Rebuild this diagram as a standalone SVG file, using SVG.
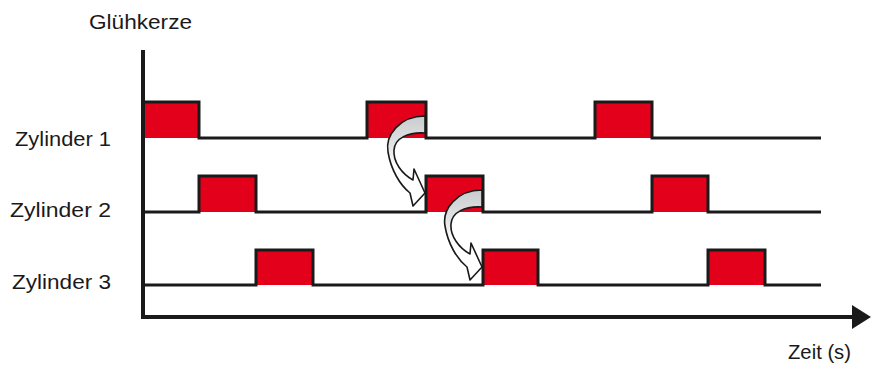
<svg xmlns="http://www.w3.org/2000/svg" width="872" height="369" viewBox="0 0 872 369">
<style>
.lbl{font-family:"Liberation Sans",Arial,sans-serif;font-size:19.5px;fill:#1a1a1a}
.wave{fill:none;stroke:#1a1a1a;stroke-width:3;stroke-linejoin:miter}
.pulse{fill:#e2001a}
.axis{stroke:#1a1a1a;stroke-width:4;fill:none}
.carrow{fill:url(#ag);stroke:#1a1a1a;stroke-width:1.6;stroke-linejoin:round}
</style>
<defs>
<linearGradient id="ag" x1="0" y1="0" x2="0" y2="1">
<stop offset="0" stop-color="#c9ccce"/>
<stop offset="0.35" stop-color="#e4e5e6"/>
<stop offset="0.55" stop-color="#ffffff"/>
<stop offset="1" stop-color="#ffffff"/>
</linearGradient>
<path id="curl" d="M425 116 C400 116 385 135 388 152 C391 170 400 185 410 193 L413 206 L425 193 L414 169 L413 180 C402 174 393 162 394 150 C395 138 408 132 425 133 Z"/>
</defs>
<rect width="872" height="369" fill="#ffffff"/>
<g id="labels">
<text class="lbl" x="89" y="29" textLength="103" lengthAdjust="spacingAndGlyphs">Glühkerze</text>
<text class="lbl" x="15" y="146" textLength="96" lengthAdjust="spacingAndGlyphs">Zylinder 1</text>
<text class="lbl" x="10" y="217" textLength="101" lengthAdjust="spacingAndGlyphs">Zylinder 2</text>
<text class="lbl" x="12" y="289" textLength="99" lengthAdjust="spacingAndGlyphs">Zylinder 3</text>
<text class="lbl" x="788" y="359" textLength="63" lengthAdjust="spacingAndGlyphs">Zeit (s)</text>
</g>
<g id="zylinder1">
<rect class="pulse" x="143" y="102" width="56" height="36"/>
<rect class="pulse" x="367" y="102" width="59" height="36"/>
<rect class="pulse" x="595" y="102" width="57" height="36"/>
<path class="wave" d="M143 102 H199 V138 H367 V102 H426 V138 H595 V102 H652 V138 H821"/>
</g>
<g id="zylinder2">
<rect class="pulse" x="199" y="176" width="57" height="36"/>
<rect class="pulse" x="426" y="176" width="57" height="36"/>
<rect class="pulse" x="652" y="176" width="56" height="36"/>
<path class="wave" d="M143 212 H199 V176 H256 V212 H426 V176 H483 V212 H652 V176 H708 V212 H821"/>
</g>
<g id="zylinder3">
<rect class="pulse" x="256" y="250" width="57" height="35"/>
<rect class="pulse" x="483" y="250" width="55" height="35"/>
<rect class="pulse" x="708" y="250" width="57" height="35"/>
<path class="wave" d="M143 285 H256 V250 H313 V285 H483 V250 H538 V285 H708 V250 H765 V285 H821"/>
</g>
<g id="axes">
<line class="axis" x1="143" y1="50" x2="143" y2="319"/>
<line class="axis" x1="141" y1="317" x2="856" y2="317"/>
<polygon points="852,305 871,317 852,329" fill="#1a1a1a"/>
</g>
<g id="connectors">
<use href="#curl" class="carrow"/>
<use href="#curl" class="carrow" transform="translate(57,74)"/>
</g>
</svg>
